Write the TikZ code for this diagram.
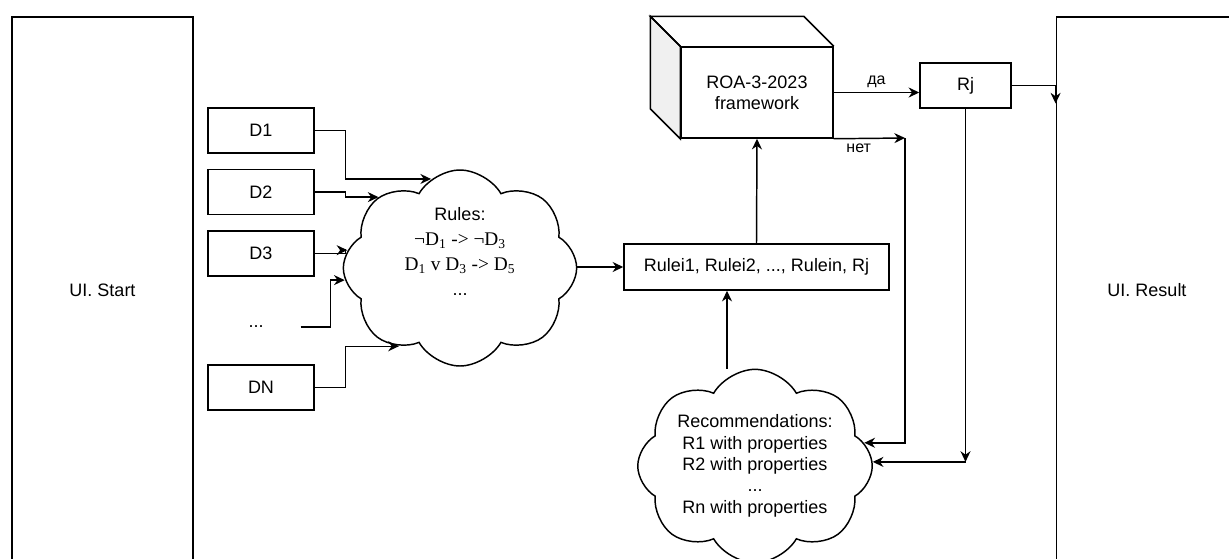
\documentclass[tikz,border=0pt]{standalone}
\usepackage{fontspec}
\setmainfont{Liberation Sans}
\newfontfamily\rulesfont{Liberation Serif}
\usetikzlibrary{positioning,shapes.symbols,arrows.meta}

\tikzset{
    box/.style={draw, line width=1.1pt, minimum width=79.5pt, minimum height=33.75pt,
        inner sep=0pt, align=center, font=\fontsize{13.5}{16}\selectfont},
    tall/.style={box, minimum width=136pt, minimum height=409.5pt},
    cloudy/.style={cloud, draw, line width=1.1pt, cloud puffs=8, cloud puff arc=120,
        cloud ignores aspect, inner sep=0pt, align=center},
    small/.style={font=\fontsize{12}{14}\selectfont},
}

\begin{document}
\begin{tikzpicture}[x=0.75pt, y=-0.75pt, line width=1.1pt,
        >={Stealth[length=8pt, width=7.5pt]}]
    \clip (0,0) rectangle (1229,558);

    % outer screens
    \node[tall] (uistart) at (102.5,290) {UI. Start};
    \node[tall] (uires) at (1147,290) {UI. Result};

    % input data
    \node[box] (d1) at (261,130.5) {D1};
    \node[box, below=11.25pt of d1] (d2) {D2};
    \node[box, below=11.25pt of d2] (d3) {D3};
    \node[box, draw=none, minimum width=66pt] (dots) at (256,327) {...};
    \node[box] (dn) at (261,387.5) {DN};

    % rules
    \node[cloudy, minimum width=175pt, minimum height=147pt,
        font=\fontsize{13.5}{18.75}\selectfont] (rules) at (460,268)
        {Rules:\\
         {\rulesfont\fontsize{14.5}{18.75}\selectfont ¬D\textsubscript{1} -> ¬D\textsubscript{3}}\\
         {\rulesfont\fontsize{14.5}{18.75}\selectfont D\textsubscript{1} v D\textsubscript{3} -> D\textsubscript{5}}\\
         ...\\[6pt]};

    \node[box, minimum width=198.75pt, minimum height=34.5pt] (rulebox) at (756.5,267)
        {Rulei1, Rulei2, ..., Rulein, Rj};

    % framework cube
    \node[box, minimum width=114pt, minimum height=68.25pt] (roa) at (757,92.5)
        {ROA-3-2023\\framework};
    \filldraw[fill=gray!12] (roa.north west) -- ++(-30,-30)
        -- ([shift={(-30,-30)}]roa.south west) -- (roa.south west) -- cycle;
    \draw (roa.north west) -- ++(-30,-30)
        -- ([shift={(-30,-30)}]roa.north east) -- (roa.north east);

    \node[box, minimum width=68.25pt] (rj) at (965.5,85.5) {Rj};

    % recommendations
    \node[cloudy, minimum width=174pt, minimum height=145pt,
        font=\fontsize{13.5}{16}\selectfont] (rec) at (755,466)
        {Recommendations:\\ R1 with properties\\ R2 with properties\\ ...\\ Rn with properties};

    % connectors
    \draw[->] (d1.east) -- ++(31,0) |- (rules.108);
    \draw[->] (d2.east) -- ++(31,0) |- (rules.139);
    \draw[->] (d3.east) -- ++(31,0) |- (rules.171);
    \draw[->] (dots.east) -- ++(30,0) |- (rules.186);
    \draw[->] (dn.east) -- ++(31,0) |- (rules.232);
    \draw[->] (rules.east |- rulebox.west) -- (rulebox.west);
    \draw[->] (rulebox.north) -- (roa.south);
    \draw[->] (roa.east) -- (roa.east -| rj.west) node[small, midway, above] {да};
    \coordinate (netc) at (905,138);
    \draw[->] (roa.south east) -- (netc) node[small, pos=0.35, below] {нет};
    \draw[->] (netc) |- (rec.12);
    \draw[->] (rj.east) -- (rj.east -| uires.west) -- ++(0,18);
    \coordinate (rjc) at (rj.south |- rec.2);
    \draw[->] (rj.south) -- (rjc);
    \draw[->] (rjc) -- (rec.2);
    \draw[->] ([xshift=-21pt]rec.north) -- ([xshift=-21pt]rec.north |- rulebox.south);
\end{tikzpicture}
\end{document}
